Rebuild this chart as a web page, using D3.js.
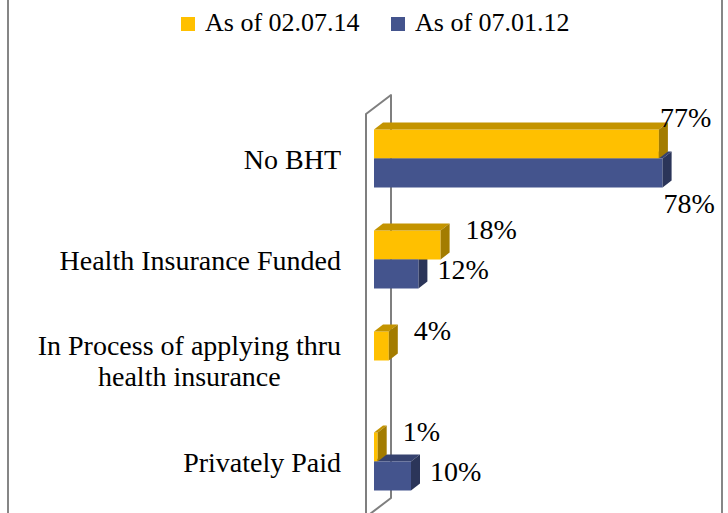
<!DOCTYPE html>
<html>
<head>
<meta charset="utf-8">
<script src="https://cdn.jsdelivr.net/npm/d3@7/dist/d3.min.js"></script>
<style>
  body { margin: 0; background: #fff; }
  svg { display: block; font-family: "Liberation Serif", "Times New Roman", serif; }
</style>
</head>
<body>
<div id="chart"></div>
<script>
var categories = [
    "No BHT",
    "Health Insurance Funded",
    "In Process of applying thru health insurance",
    "Privately Paid"
];
var seriesNames = ["As of 02.07.14", "As of 07.01.12"];
var valuesFeb14 = [77, 18, 4, 1];
var valuesJan12 = [78, 12, 0, 10];

var frontColors = ["#FFC000", "#44548D"];
var topColors = ["#C49400", "#36426F"];
var sideColors = ["#A37C00", "#2B3559"];

var width = 728,
    height = 513;

// fake 3d depth of the bars and of the back wall
var depthX = 9,
    depthY = 7,
    wallDx = 25,
    wallDy = 19;

var svg = d3.select("#chart").append("svg")
    .attr("width", width)
    .attr("height", height);

// chart border (runs off the top and bottom of the picture)
svg.append("rect")
    .attr("x", 8)
    .attr("y", -4)
    .attr("width", 714)
    .attr("height", height + 20)
    .attr("fill", "none")
    .attr("stroke", "#868686")
    .attr("stroke-width", 2);

var x = d3.scaleLinear()
    .domain([0, 100])
    .range([374, 744]);

var y = d3.scaleBand()
    .domain(categories)
    .range([108, 512])
    .paddingInner(0.425)
    .paddingOuter(0.2125);

var ySub = d3.scaleBand()
    .domain(seriesNames)
    .range([0, y.bandwidth()]);

// wall
var wallFront = x(0) - 8,
    wallTop = 114,
    wallBottom = 517;

svg.append("polygon")
    .attr("points", [
        [wallFront, wallTop],
        [wallFront + wallDx, wallTop - wallDy],
        [wallFront + wallDx, wallBottom - wallDy],
        [wallFront, wallBottom]
    ].join(" "))
    .attr("fill", "none")
    .attr("stroke", "#7f7f7f")
    .attr("stroke-width", 2)
    .attr("stroke-linejoin", "round");

var rows = categories.map(function (c, i) {
    return {
        category: c,
        values: [valuesFeb14[i], valuesJan12[i]]
    };
});

function barBox(d, s) {
    return {
        s: s,
        x0: x(0),
        x1: x(d.values[s]),
        top: y(d.category) + ySub(seriesNames[s]),
        h: ySub.bandwidth()
    };
}

function facePoints(b, face) {
    var p;
    if (face == "front") {
        p = [[b.x0, b.top], [b.x1, b.top], [b.x1, b.top + b.h], [b.x0, b.top + b.h]];
    } else if (face == "top") {
        p = [[b.x0, b.top], [b.x0 + depthX, b.top - depthY], [b.x1 + depthX, b.top - depthY], [b.x1, b.top]];
    } else {
        p = [[b.x1, b.top], [b.x1 + depthX, b.top - depthY], [b.x1 + depthX, b.top + b.h - depthY], [b.x1, b.top + b.h]];
    }
    return p.join(" ");
}

// painter order so the nearer faces end up on top
function faceList(d) {
    var yel = barBox(d, 0),
        blu = barBox(d, 1),
        faces = [];
    var hasYel = d.values[0] > 0,
        hasBlu = d.values[1] > 0;
    if (hasBlu) faces.push([blu, "top"]);
    if (hasBlu && d.values[1] <= d.values[0]) faces.push([blu, "side"]);
    if (hasYel) {
        faces.push([yel, "front"]);
        faces.push([yel, "top"]);
        faces.push([yel, "side"]);
    }
    if (hasBlu) faces.push([blu, "front"]);
    if (hasBlu && d.values[1] > d.values[0]) faces.push([blu, "side"]);
    return faces;
}

var barGroups = svg.append("g")
    .selectAll("g")
    .data(rows)
    .join("g");

barGroups.selectAll("polygon")
    .data(faceList)
    .join("polygon")
    .attr("points", function (f) {
        return facePoints(f[0], f[1]);
    })
    .attr("fill", function (f) {
        if (f[1] == "front") return frontColors[f[0].s];
        if (f[1] == "top") return topColors[f[0].s];
        return sideColors[f[0].s];
    });

// value labels
var labels = [];
rows.forEach(function (d) {
    [0, 1].forEach(function (s) {
        if (d.values[s] > 0) labels.push({ box: barBox(d, s), value: d.values[s] });
    });
});

svg.append("g")
    .selectAll("text")
    .data(labels)
    .join("text")
    .attr("font-size", "28px")
    .attr("fill", "#000")
    .text(function (d) {
        return d.value + "%";
    })
    .each(function (d) {
        var t = d3.select(this);
        var b = d.box;
        var w = this.getComputedTextLength();
        var lx, ly;
        if (b.s == 0) {
            lx = b.x1 + depthX + 16;
            ly = b.top + 9;
        } else {
            lx = b.x1 + depthX + 10;
            ly = b.top + 19;
        }
        // no room on the right: lift above / drop below the bar
        if (lx + w > 718) {
            lx = b.x1 + 1;
            ly = b.s == 0 ? b.top - 2 : b.top + b.h + 25;
        }
        t.attr("x", lx).attr("y", ly);
    });

// category labels
var catLabels = svg.append("g")
    .selectAll("text")
    .data(categories)
    .join("text")
    .attr("font-size", "28px")
    .attr("fill", "#000")
    .attr("x", 341)
    .attr("y", function (d) {
        return y(d) + y.bandwidth() / 2 + 10;
    })
    .attr("width", 320)
    .text(function (d) {
        return d;
    })
    .call(wrapCentered);

function wrapCentered(text) {
    text.each(function () {
        var text = d3.select(this);
        var words = text.text().split(/\s+/).reverse();
        var lineHeight = 31;
        var maxW = parseFloat(text.attr("width"));
        var right = parseFloat(text.attr("x"));
        var y = parseFloat(text.attr("y"));
        var lines = [];
        var line = [];
        var tspan = text.text(null).append("tspan");
        var word = words.pop();
        while (word) {
            line.push(word);
            tspan.text(line.join(" "));
            if (tspan.node().getComputedTextLength() > maxW && line.length > 1) {
                line.pop();
                tspan.text(line.join(" "));
                lines.push(tspan);
                line = [word];
                tspan = text.append("tspan").text(word);
            }
            word = words.pop();
        }
        lines.push(tspan);
        var widest = d3.max(lines, function (t) {
            return t.node().getComputedTextLength();
        });
        var y0 = y - (lines.length - 1) * lineHeight / 2;
        lines.forEach(function (t, i) {
            t.attr("text-anchor", "middle")
                .attr("x", right - widest / 2)
                .attr("y", y0 + i * lineHeight);
        });
    });
}

// legend
var legend = svg.append("g")
    .selectAll("g")
    .data(seriesNames)
    .join("g")
    .attr("transform", function (d, i) {
        return "translate(" + (181 + i * 210) + ",17)";
    });

legend.append("rect")
    .attr("width", 14)
    .attr("height", 14)
    .attr("fill", function (d, i) {
        return frontColors[i];
    });

legend.append("text")
    .attr("x", 24)
    .attr("y", 14)
    .attr("font-size", "26px")
    .attr("fill", "#000")
    .text(function (d) {
        return d;
    });
</script>
</body>
</html>
